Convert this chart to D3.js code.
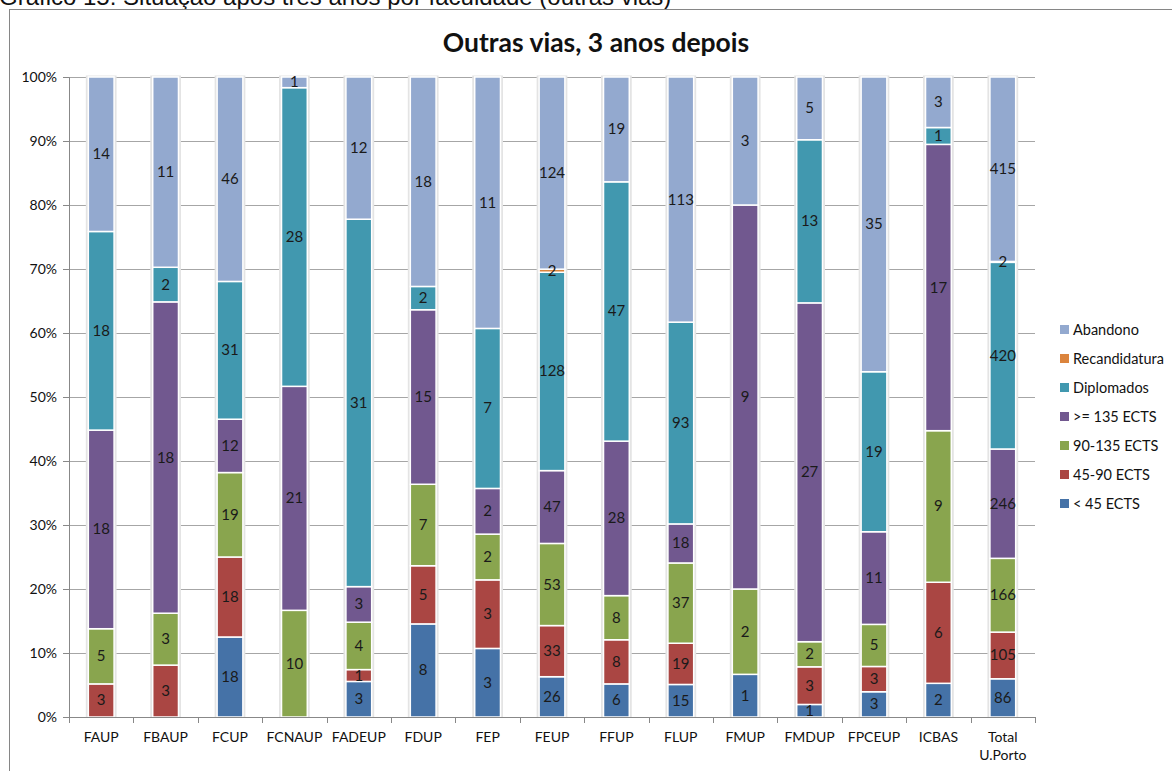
<!DOCTYPE html>
<meta charset="utf-8">
<style>
  body { margin: 0; background: #fff; overflow: hidden; }
  text { font-family: Lato, "Open Sans", sans-serif; fill: #111; }
  .caption { font-family: "Liberation Sans", Arial, sans-serif; font-size: 24px; }
  .title { font-size: 26.5px; font-weight: bold; }
  .axis text { font-size: 14px; }
  .axis path, .axis line { stroke: #888; }
  .grid line { stroke: #a6a6a6; }
  .seg { stroke: #fff; stroke-width: 1.5; }
  .val { font-size: 15px; text-anchor: middle; fill: #1a1a1a; }
  .legend text { font-size: 14.5px; }
</style>
<body></body>
<script src="https://d3js.org/d3.v7.min.js"></script>
<script>
var faculdades = ['FAUP', 'FBAUP', 'FCUP', 'FCNAUP', 'FADEUP', 'FDUP', 'FEP', 'FEUP',
  'FFUP', 'FLUP', 'FMUP', 'FMDUP', 'FPCEUP', 'ICBAS', 'Total U.Porto'];
var series = ['< 45 ECTS', '45-90 ECTS', '90-135 ECTS', '>= 135 ECTS', 'Diplomados', 'Recandidatura', 'Abandono'];
var colors = ['#4572A7', '#AA4643', '#89A54E', '#71588F', '#4198AF', '#DB843D', '#93A9CF'];

var menos45    = [0, 0, 18, 0, 3, 8, 3, 26, 6, 15, 1, 1, 3, 2, 86];
var ects45_90  = [3, 3, 18, 0, 1, 5, 3, 33, 8, 19, 0, 3, 3, 6, 105];
var ects90_135 = [5, 3, 19, 10, 4, 7, 2, 53, 8, 37, 2, 2, 5, 9, 166];
var mais135    = [18, 18, 12, 21, 3, 15, 2, 47, 28, 18, 9, 27, 11, 17, 246];
var diplomados = [18, 2, 31, 28, 31, 2, 7, 128, 47, 93, 0, 13, 19, 1, 420];
var recand     = [0, 0, 0, 0, 0, 0, 0, 2, 0, 0, 0, 0, 0, 0, 2];
var abandono   = [14, 11, 46, 1, 12, 18, 11, 124, 19, 113, 3, 5, 35, 3, 415];
var seriesValues = [menos45, ects45_90, ects90_135, mais135, diplomados, recand, abandono];

var yTicks = [0, 0.1, 0.2, 0.3, 0.4, 0.5, 0.6, 0.7, 0.8, 0.9, 1];

var W = 1172, H = 771;
var plot = { left: 69, right: 1035, top: 77, bottom: 717 };

var svg = d3.select('body').append('svg').attr('width', W).attr('height', H);

svg.append('text').attr('class', 'caption').attr('x', -1).attr('y', 5)
  .text('Gráfico 15: Situação após três anos por faculdade (outras vias)');

// chart frame
svg.append('rect').attr('x', 9.5).attr('y', 9.5).attr('width', W + 20).attr('height', H + 20)
  .attr('fill', 'none').attr('stroke', '#868686').attr('stroke-width', 1);

svg.append('text').attr('class', 'title').attr('x', 596).attr('y', 52)
  .attr('text-anchor', 'middle').text('Outras vias, 3 anos depois');

var rows = faculdades.map(function (f, i) {
  var r = { cat: f };
  series.forEach(function (s, k) { r[s] = seriesValues[k][i]; });
  return r;
});

var stack = d3.stack().keys(series).offset(d3.stackOffsetExpand);
var layers = stack(rows);

var x = d3.scaleBand().domain(faculdades).range([plot.left, plot.right]).paddingInner(0.6).paddingOuter(0.3);
var xb = d3.scaleBand().domain(faculdades).range([plot.left, plot.right]);
var y = d3.scaleLinear().domain([0, 1]).range([plot.bottom, plot.top]);

// gridlines
svg.append('g').attr('class', 'grid').selectAll('line').data(yTicks.slice(1)).join('line')
  .attr('x1', plot.left).attr('x2', plot.right)
  .attr('y1', function (d) { return Math.round(y(d)) + 0.5; })
  .attr('y2', function (d) { return Math.round(y(d)) + 0.5; });

// bar shadows
svg.append('g').selectAll('rect').data(faculdades).join('rect')
  .attr('x', function (d) { return x(d) - 2.5; })
  .attr('y', plot.top - 1.5)
  .attr('width', x.bandwidth() + 5)
  .attr('height', plot.bottom - plot.top + 1.5)
  .attr('fill', '#e4e4e4');

var layerG = svg.append('g').selectAll('g').data(layers).join('g')
  .attr('fill', function (d, i) { return colors[i]; });

layerG.selectAll('rect').data(function (d) { return d.filter(function (p) { return p[1] - p[0] > 0; }); })
  .join('rect').attr('class', 'seg')
  .attr('x', function (d) { return x(d.data.cat); })
  .attr('width', x.bandwidth())
  .attr('y', function (d) { return y(d[1]); })
  .attr('height', function (d) { return y(d[0]) - y(d[1]); });

// data labels
layers.forEach(function (layer) {
  svg.append('g').selectAll('text')
    .data(layer.filter(function (p) { return p.data[layer.key] > 0; }))
    .join('text').attr('class', 'val')
    .attr('x', function (d) { return x(d.data.cat) + x.bandwidth() / 2; })
    .attr('y', function (d) { return (y(d[0]) + y(d[1])) / 2 + 5; })
    .text(function (d) { return d.data[layer.key]; });
});

// y axis
svg.append('g').attr('class', 'axis').attr('transform', 'translate(' + plot.left + ',0)')
  .call(d3.axisLeft(y).tickValues(yTicks).tickFormat(d3.format('.0%')).tickSizeOuter(0).tickSize(6).tickPadding(6));

// x axis with ticks between categories
var xAxis = svg.append('g').attr('class', 'axis').attr('transform', 'translate(0,' + plot.bottom + ')');
xAxis.append('line').attr('x1', plot.left).attr('x2', plot.right).attr('y1', 0.5).attr('y2', 0.5);
xAxis.selectAll('line.t').data(faculdades).join('line').attr('class', 't')
  .attr('x1', function (d) { return Math.round(xb(d) + xb.bandwidth()) + 0.5; })
  .attr('x2', function (d) { return Math.round(xb(d) + xb.bandwidth()) + 0.5; })
  .attr('y1', 0).attr('y2', 6);
xAxis.append('line').attr('x1', plot.left + 0.5).attr('x2', plot.left + 0.5).attr('y1', 0).attr('y2', 6);
xAxis.selectAll('text').data(faculdades).join('text')
  .attr('text-anchor', 'middle')
  .attr('x', function (d) { return xb(d) + xb.bandwidth() / 2; })
  .attr('y', 25)
  .each(function (d) {
    var parts = d === 'Total U.Porto' ? ['Total', 'U.Porto'] : [d];
    var t = d3.select(this);
    parts.forEach(function (p, i) {
      t.append('tspan').attr('x', xb(d) + xb.bandwidth() / 2).attr('dy', i ? 18 : 0).text(p);
    });
  });

// legend (reverse order, top = Abandono)
var legend = svg.append('g').attr('class', 'legend').selectAll('g')
  .data(series.slice().reverse()).join('g')
  .attr('transform', function (d, i) { return 'translate(1060,' + (330 + i * 29) + ')'; });
legend.append('rect').attr('x', 0).attr('y', -5).attr('width', 9).attr('height', 9)
  .attr('fill', function (d) { return colors[series.indexOf(d)]; });
legend.append('text').attr('x', 13).attr('y', 5).text(function (d) { return d; });
</script>
